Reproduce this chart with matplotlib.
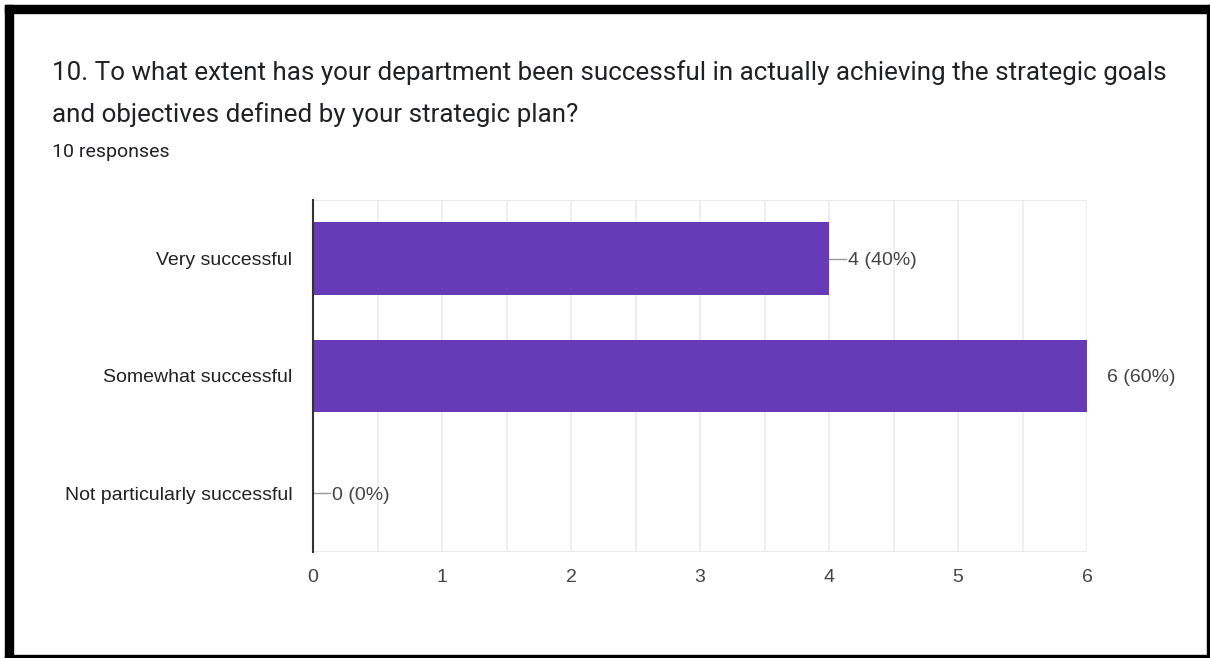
import matplotlib.pyplot as plt
from matplotlib.patches import Rectangle

categories = ["Very successful", "Somewhat successful", "Not particularly successful"]
counts = [4, 6, 0]
total = 10
x_ticks = [0, 1, 2, 3, 4, 5, 6]

title_lines = [
    "10. To what extent has your department been successful in actually achieving the strategic goals",
    "and objectives defined by your strategic plan?",
]
subtitle = "10 responses"

plt.rcParams['font.family'] = ['Roboto', 'DejaVu Sans']
chart_font = ['Liberation Sans', 'DejaVu Sans']

W, H = 1210, 658
fig = plt.figure(figsize=(W / 100, H / 100), dpi=100)
fig.patch.set_facecolor('white')

# plot area in pixel coords
left, right, top, bottom = 313, 1087, 200, 552
ax = fig.add_axes([left / W, 1 - bottom / H, (right - left) / W, (bottom - top) / H])

purple = '#673ab7'
grid_c = '#ebebeb'
text_c = '#444444'
fs = 14

ypos = list(range(len(categories)))
ax.barh(ypos, counts, height=0.62, color=purple, zorder=3)
ax.set_ylim(len(categories) - 0.5, -0.5)
ax.set_xlim(0, 6)

# half-step vertical grid
for v in [i * 0.5 for i in range(1, 13)]:
    ax.axvline(v, color=grid_c, lw=1.2, zorder=1)
ax.axhline(-0.5, color=grid_c, lw=1.5, zorder=1)
ax.axhline(len(categories) - 0.5, color=grid_c, lw=1.5, zorder=1)

for s in ['top', 'right', 'bottom']:
    ax.spines[s].set_visible(False)
ax.spines['left'].set_color('#333333')
ax.spines['left'].set_linewidth(1.5)
ax.spines['left'].set_zorder(4)

ax.set_yticks(ypos)
ax.set_yticklabels(categories, fontsize=fs, color='#222222', family=chart_font)
ax.tick_params(axis='y', length=0, pad=15)
ax.set_xticks(x_ticks)
ax.set_xticklabels([str(t) for t in x_ticks], fontsize=fs, color=text_c, family=chart_font)
ax.tick_params(axis='x', length=0, pad=12)

# value labels with short leader lines
unit = (right - left) / 6
for y, c in zip(ypos, counts):
    label = f"{c} ({c * 100 // total}%)"
    if c >= 6:
        ax.text(c + 20 / unit, y, label, va='center_baseline', ha='left', fontsize=fs,
                color=text_c, clip_on=False, family=chart_font)
    else:
        ax.plot([c, c + 17 / unit], [y, y], color='#999999', lw=1, zorder=4,
                clip_on=False)
        ax.text(c + 19 / unit, y, label, va='center_baseline', ha='left', fontsize=fs,
                color=text_c, clip_on=False, family=chart_font)

# title block
fig.text(52 / W, 1 - 73 / H, title_lines[0], fontsize=18.7, color='#202124', va='center')
fig.text(52 / W, 1 - 115 / H, title_lines[1], fontsize=18.7, color='#202124', va='center')
fig.text(52 / W, 1 - 152 / H, subtitle, fontsize=14, color='#202124', va='center')

# black frame around the card
frame = [
    (5, 5, 1205, 8),     # top
    (5, 5, 8, 653),      # left
    (1207, 5, 3, 653),   # right
    (5, 655, 1205, 3),   # bottom
]
for x0, y0, w, h in frame:
    fig.patches.append(Rectangle((x0 / W, 1 - (y0 + h) / H), w / W, h / H,
                                 transform=fig.transFigure, color='black', zorder=10))

fig.savefig('out.png', dpi=100, facecolor='white')
